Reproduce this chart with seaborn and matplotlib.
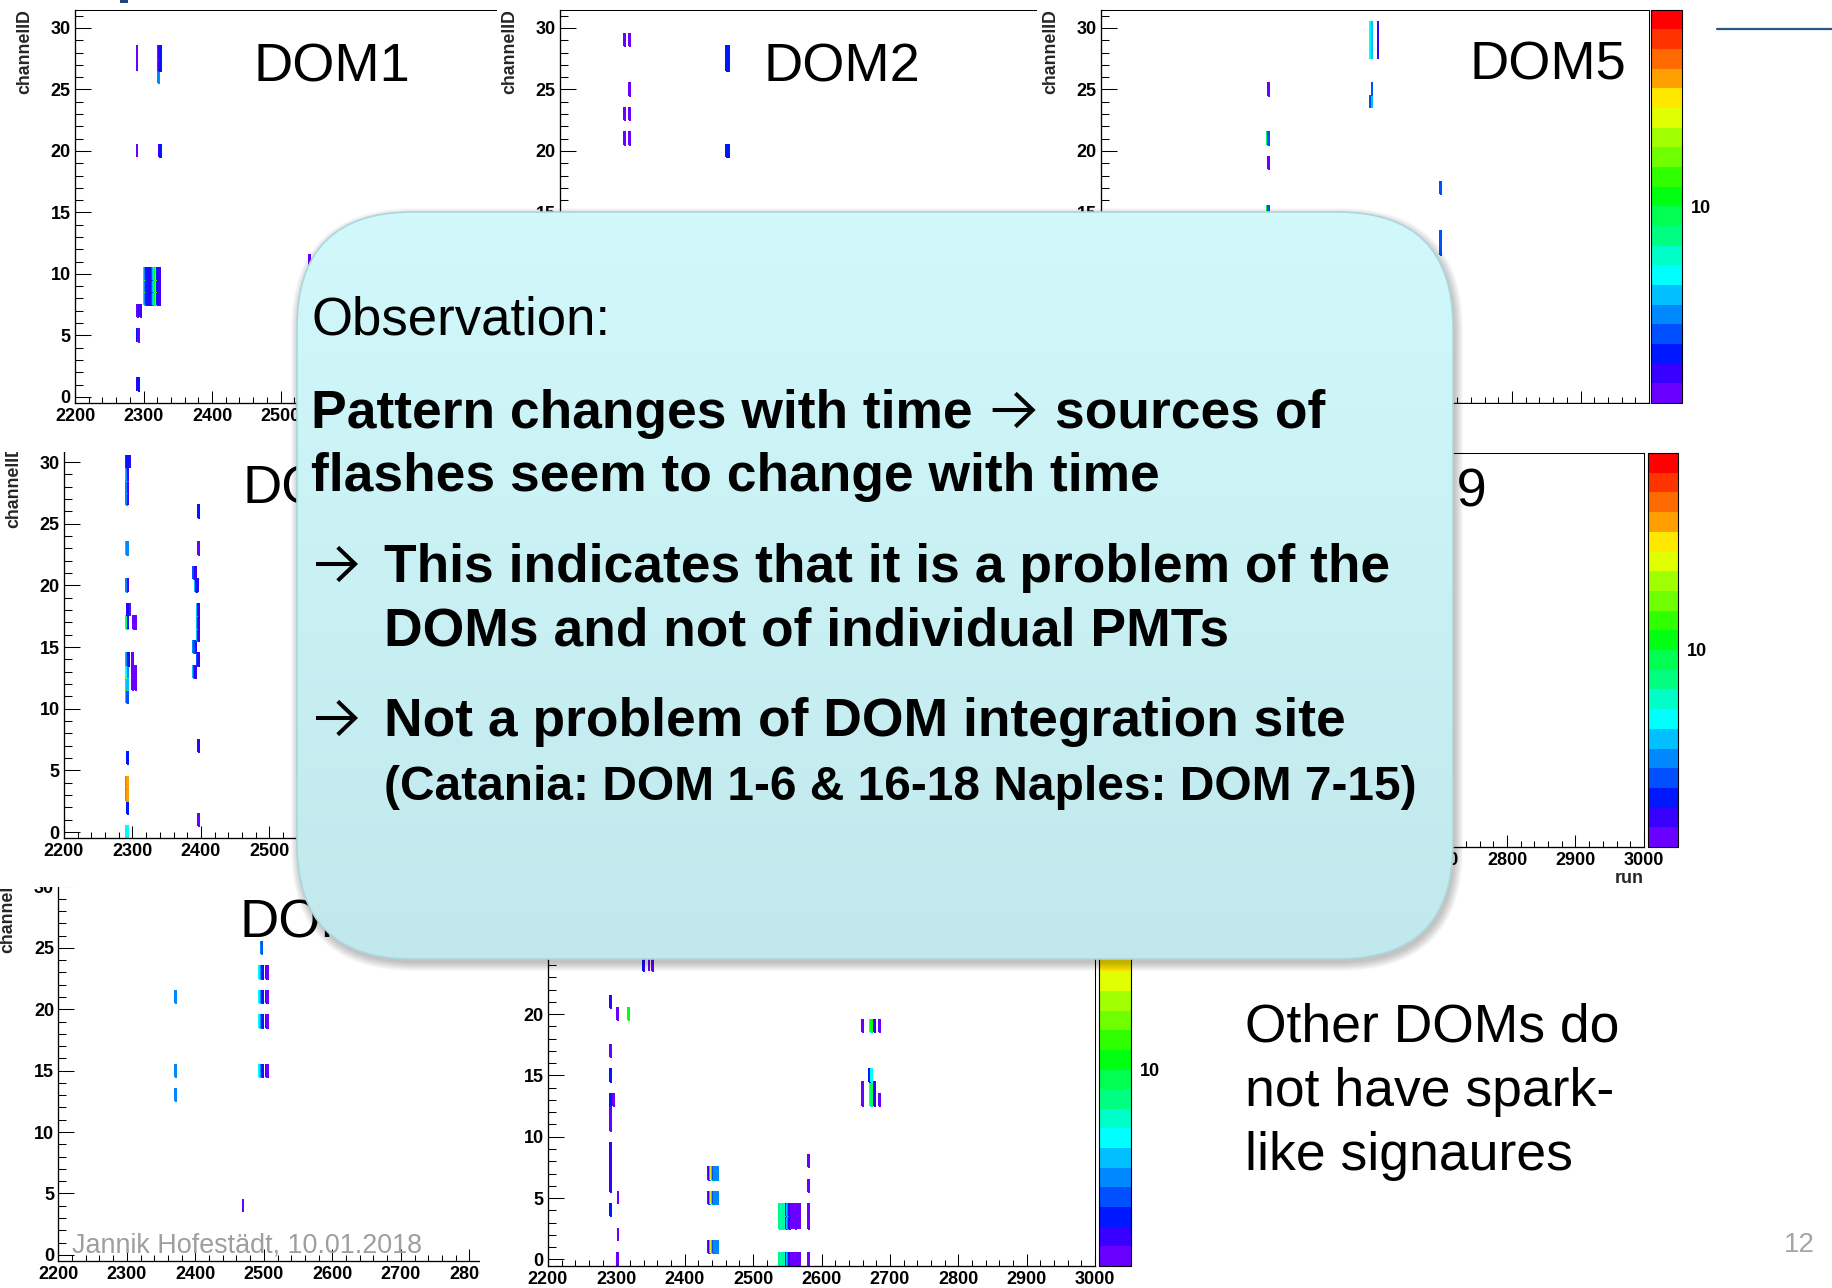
import numpy as np
import pandas as pd
import matplotlib
matplotlib.use("Agg")
import matplotlib.pyplot as plt
import seaborn as sns
from matplotlib.colors import ListedColormap, LogNorm
from matplotlib.patches import Rectangle, FancyBboxPatch, FancyArrowPatch
from matplotlib.lines import Line2D
from matplotlib.ticker import MultipleLocator, NullFormatter
from matplotlib.cm import ScalarMappable

# ------------------------------------------------------------------ data
run_range = (2200, 3000)
channel_range = (-0.5, 31.5)
run_ticks = [2200, 2300, 2400, 2500, 2600, 2700, 2800, 2900, 3000]
channel_ticks = [0, 5, 10, 15, 20, 25, 30]
count_range = (2, 50)
colorbar_ticks = [10]
colorbar_tick_labels = ["10"]
colorbar_minor_ticks = [2, 3, 4, 5, 6, 7, 8, 9, 20, 30, 40, 50]
rainbow_colors = ["#6a00ff", "#3800ff", "#0018ff", "#0050ff", "#0088ff",
                  "#00c0ff", "#00ffff", "#00ffc8", "#00ff80", "#00ff50",
                  "#00ff10", "#30ff00", "#70ff00", "#a0ff00", "#e0ff00",
                  "#ffe800", "#ffa000", "#ff6a00", "#ff3300", "#ff0000"]

# streaks: (run, first channel, last channel, entries)
dom1_streaks = [
    (2290, 27, 28, 2), (2321, 26, 26, 4), (2321, 27, 28, 3.5), (2322, 27, 28, 3),
    (2323, 27, 28, 2.5), (2324, 27, 28, 3),
    (2290, 20, 20, 2), (2322, 20, 20, 3), (2323, 20, 20, 2.5), (2324, 20, 20, 3),
    (2290, 7, 7, 3), (2291, 7, 7, 2), (2293, 7, 7, 2.5), (2295, 7, 7, 2), (2296, 7, 7, 2.5),
    (2290, 5, 5, 3), (2292, 5, 5, 2),
    (2290, 1, 1, 2.5), (2292, 1, 1, 3),
    (2542, 11, 11, 2),
]
dom1_burst_runs = [2300, 2301, 2302, 2303, 2304, 2305, 2306, 2307, 2308, 2309, 2310, 2311,
                   2312, 2313, 2314, 2315, 2316, 2317, 2318, 2319, 2320, 2321, 2322, 2323]
dom1_burst_counts = [3, 9, 4, 4, 3, 3, 3, 2.5, 2.5, 2, 2.5, 3,
                     3.5, 3.5, 5, 5, 9, 10, 14, 3, 3, 2.5, 2, 2.5]
dom1_burst_channels = [(8, 10)]

dom2_streaks = [
    (2294, 29, 29, 2), (2301, 29, 29, 2), (2301, 25, 25, 2),
    (2294, 23, 23, 2), (2301, 23, 23, 2), (2294, 21, 21, 2), (2301, 21, 21, 2),
    (2443, 27, 28, 3), (2444, 27, 28, 3), (2445, 27, 28, 3),
    (2443, 20, 20, 3), (2444, 20, 20, 3), (2445, 20, 20, 3),
]

dom5_streaks = [
    (2592, 28, 30, 6), (2595, 28, 30, 5), (2604, 28, 30, 2.5),
    (2444, 25, 25, 2), (2595, 25, 25, 3.5), (2592, 24, 24, 3.5), (2595, 24, 24, 5),
    (2444, 21, 21, 3.5), (2443, 21, 21, 8), (2444, 19, 19, 2),
    (2695, 17, 17, 3.8), (2444, 15, 15, 3.5), (2443, 15, 15, 9), (2695, 12, 13, 3.8),
]

dom8_streaks = [
    (2291, 30, 30, 2), (2292, 30, 30, 3), (2293, 30, 30, 3), (2296, 30, 30, 2.5),
    (2291, 29, 29, 5), (2292, 29, 29, 4), (2293, 29, 29, 2.5),
    (2291, 27, 28, 4), (2293, 27, 28, 2.5),
    (2395, 26, 26, 4), (2396, 26, 26, 3),
    (2291, 23, 23, 5), (2292, 23, 23, 4), (2396, 23, 23, 2),
    (2291, 20, 20, 4), (2293, 20, 20, 2.5),
    (2389, 21, 21, 3.5), (2390, 21, 21, 3.5), (2391, 21, 21, 2.5),
    (2391, 20, 20, 5), (2393, 20, 20, 3), (2395, 20, 20, 2.5),
    (2292, 18, 18, 2.5), (2293, 18, 18, 3), (2296, 18, 18, 2),
    (2394, 16, 18, 5), (2395, 16, 18, 3), (2396, 16, 18, 2.5),
    (2291, 17, 17, 12), (2292, 17, 17, 8), (2293, 17, 17, 3), (2301, 17, 17, 2), (2304, 17, 17, 2),
    (2389, 15, 15, 4), (2390, 15, 15, 3.5), (2392, 15, 15, 2.5),
    (2291, 14, 14, 5), (2292, 14, 14, 4), (2294, 14, 14, 3), (2300, 14, 14, 2),
    (2394, 14, 14, 3.5), (2396, 14, 14, 2.5),
    (2291, 13, 13, 14), (2292, 13, 13, 6), (2293, 13, 13, 4), (2300, 13, 13, 2), (2304, 13, 13, 2),
    (2389, 13, 13, 5), (2390, 13, 13, 3.5), (2391, 13, 13, 2.5),
    (2291, 12, 12, 12), (2292, 12, 12, 5), (2300, 12, 12, 2), (2304, 12, 12, 2),
    (2291, 11, 11, 10), (2292, 11, 11, 3.5),
    (2395, 7, 7, 3), (2396, 7, 7, 2.5),
    (2292, 6, 6, 3),
    (2290, 3, 4, 40), (2291, 3, 4, 33), (2292, 3, 4, 28),
    (2292, 2, 2, 3),
    (2396, 1, 1, 2),
    (2290, 0, 0, 33), (2291, 0, 0, 28), (2292, 0, 0, 6),
]

dom9_streaks = []

dom13_streaks = [
    (2371, 21, 21, 4), (2371, 15, 15, 4), (2371, 13, 13, 4), (2469, 4, 4, 2),
    (2496, 25, 25, 4), (2497, 25, 25, 3.5),
]
dom13_burst_runs = [2493, 2494, 2495, 2496, 2497, 2498, 2503, 2505]
dom13_burst_counts = [6, 7, 8, 4, 3.5, 3, 2.5, 2]
dom13_burst_channels = [(23, 23), (21, 21), (19, 19), (15, 15)]

dom16_streaks = [
    (2290, 21, 21, 2.5), (2291, 21, 21, 2.5), (2301, 20, 20, 2), (2317, 20, 20, 10),
    (2339, 24, 25, 3), (2340, 24, 25, 2.5), (2347, 24, 25, 2), (2352, 24, 25, 2),
    (2291, 17, 17, 2), (2291, 15, 15, 3), (2291, 13, 13, 3), (2295, 13, 13, 2),
    (2291, 11, 12, 2), (2291, 6, 9, 2.5), (2302, 5, 5, 2), (2291, 4, 4, 3),
    (2302, 2, 2, 2), (2301, 0, 0, 2),
    (2580, 8, 8, 2), (2580, 6, 6, 2), (2580, 3, 4, 2), (2580, 0, 0, 2),
    (2659, 19, 19, 2), (2671, 19, 19, 6), (2672, 19, 19, 8), (2673, 19, 19, 10),
    (2677, 19, 19, 2.5), (2684, 19, 19, 2),
    (2670, 15, 15, 3), (2671, 15, 15, 3), (2673, 15, 15, 6),
    (2659, 13, 14, 2), (2671, 13, 14, 6), (2673, 13, 14, 9), (2677, 13, 14, 2.5), (2684, 13, 13, 2),
]
dom16_burst_a_runs = [2434, 2436, 2437, 2438, 2439, 2440, 2441, 2442, 2443, 2444, 2445, 2446, 2447, 2448]
dom16_burst_a_counts = [2, 2.5, 5, 12, 24, 9, 3, 3.5, 4, 4, 4, 4, 4, 4]
dom16_burst_a_channels = [(7, 7), (5, 5), (1, 1)]
dom16_burst_b_runs = [2538, 2539, 2540, 2541, 2542, 2543, 2544, 2545, 2546, 2547, 2548,
                      2549, 2550, 2551, 2552, 2553, 2555, 2558, 2561, 2565, 2568]
dom16_burst_b_counts = [8, 8, 9, 7, 7, 8, 8, 8, 7, 7, 3, 3.5, 5, 4, 2.5, 2.5, 2, 2, 2, 2, 2]
dom16_burst_b_channels = [(3, 4), (0, 0)]

panel_names = ["DOM1", "DOM2", "DOM5", "DOM8", "DOM9", "DOM13", "DOM16"]

box_title = "Observation:"
box_line1 = ["Pattern changes with time", "sources of"]
box_line2 = "flashes seem to change with time"
box_bullets = [["This indicates that it is a problem of the",
                "DOMs and not of individual PMTs"],
               ["Not a problem of DOM integration site"]]
box_note = "(Catania: DOM 1-6 & 16-18 Naples: DOM 7-15)"
side_lines = ["Other DOMs do", "not have spark-", "like signaures"]
footer_text = "Jannik Hofest\u00e4dt, 10.01.2018"
page_number = "12"

# ------------------------------------------------------------------ setup
sns.set_theme(style="white")
plt.rcParams["font.family"] = ["Liberation Sans", "DejaVu Sans"]
plt.rcParams["font.weight"] = "bold"
plt.rcParams["axes.labelweight"] = "bold"

W, H = 1832, 1288
fig = plt.figure(figsize=(W / 100, H / 100), dpi=100)
fig.patch.set_facecolor("white")
rainbow = ListedColormap(rainbow_colors)


def px_rect(l, t, r, b):
    return [l / W, 1 - b / H, (r - l) / W, (b - t) / H]


def fx(x):
    return x / W


def fy(y):
    return 1 - y / H


def add_cover(l, t, r, b, z):
    fig.add_artist(Rectangle((l / W, 1 - b / H), (r - l) / W, (b - t) / H,
                             transform=fig.transFigure, facecolor="white",
                             edgecolor="none", zorder=z))


def with_bursts(streaks, runs, counts, channels):
    out = list(streaks)
    for run, n in zip(runs, counts):
        for lo, hi in channels:
            out.append((run, lo, hi, n))
    return out


def to_frame(streaks):
    rows = []
    for run, lo, hi, n in streaks:
        for ch in range(lo, hi + 1):
            rows.append((run, ch, n))
    return pd.DataFrame(rows, columns=["run", "channel", "entries"])


def style_axes(ax):
    ax.set_xlim(run_range)
    ax.set_ylim(channel_range)
    ax.set_xticks(run_ticks)
    ax.set_yticks(channel_ticks)
    ax.xaxis.set_minor_locator(MultipleLocator(20))
    ax.yaxis.set_minor_locator(MultipleLocator(1))
    ax.tick_params(which="both", direction="in", top=False, right=False,
                   bottom=True, left=True, width=0.75, color="black",
                   labelsize=13, labelcolor="black")
    ax.tick_params(axis="y", which="major", length=11.5, pad=3)
    ax.tick_params(axis="y", which="minor", length=5.8)
    ax.tick_params(axis="x", which="major", length=8.6, pad=3.6)
    ax.tick_params(axis="x", which="minor", length=4.3)
    for s in ["left", "bottom"]:
        ax.spines[s].set_linewidth(0.95)
    for s in ["top", "right"]:
        ax.spines[s].set_linewidth(0.75)
    for s in ax.spines.values():
        s.set_visible(True)
        s.set_color("black")
    ax.grid(False)
    ax.set_xlabel("run", loc="right", labelpad=1, fontsize=13)
    ax.set_ylabel("channelID", loc="top", fontsize=12.8)
    ax.yaxis.set_label_coords(-0.076, 1.0)


def draw_panel(rect, z, streaks, name, name_xy, name_ha="left"):
    ax = fig.add_axes(px_rect(*rect), zorder=z)
    ax.set_facecolor("white")
    if streaks:
        df = to_frame(streaks)
        sns.histplot(data=df, x="run", y="channel", weights="entries",
                     binwidth=(1, 1), binrange=(run_range, channel_range),
                     cmap=rainbow, vmin=count_range[0], vmax=count_range[1],
                     thresh=0, edgecolor="face", linewidth=0.22, cbar=False, ax=ax)
        ax.collections[-1].set_norm(LogNorm(*count_range))
    style_axes(ax)
    ax.text(fx(name_xy[0]), fy(name_xy[1]), name, transform=fig.transFigure,
            fontsize=39, fontweight="normal", ha=name_ha, va="baseline", color="black")
    return ax


def add_colorbar(rect, z):
    cax = fig.add_axes(px_rect(*rect), zorder=z)
    sm = ScalarMappable(norm=LogNorm(*count_range), cmap=rainbow)
    cb = fig.colorbar(sm, cax=cax)
    cb.set_ticks(colorbar_ticks, labels=colorbar_tick_labels)
    cb.set_ticks(colorbar_minor_ticks, minor=True)
    cax.yaxis.set_minor_formatter(NullFormatter())
    cax.tick_params(which="both", direction="in", right=True, left=False,
                    color="black", width=0.75, labelsize=13, labelcolor="black")
    cax.tick_params(which="major", length=11.5, pad=6.5)
    cax.tick_params(which="minor", length=5.8)
    cb.outline.set_linewidth(0.8)
    cb.outline.set_edgecolor("black")
    return cb


def add_arrow(x0, x1, y, z=101):
    arr = FancyArrowPatch((fx(x0), fy(y)), (fx(x1), fy(y)), transform=fig.transFigure,
                          arrowstyle="->,head_length=12.5,head_width=12",
                          mutation_scale=1, lw=2.9, color="black",
                          shrinkA=0, shrinkB=0, zorder=z, joinstyle="miter",
                          capstyle="butt")
    fig.add_artist(arr)


# slide background decorations
fig.add_artist(Rectangle((120 / W, 1 - 3 / H), 8 / W, 3 / H, transform=fig.transFigure,
                         facecolor="#23457d", edgecolor="none", zorder=0.5))
fig.add_artist(Line2D([1717 / W, 1.0], [1 - 29 / H, 1 - 29 / H], transform=fig.transFigure,
                      color="#2a5a8c", lw=1.6, zorder=0.5))

# panels (stacked like pasted screenshots)
add_cover(0, 860, 480, 1288, 1)
draw_panel((58.3, 868, 606.3, 1261), 1.5,
           with_bursts(dom13_streaks, dom13_burst_runs, dom13_burst_counts, dom13_burst_channels),
           panel_names[5], (239, 938))

add_cover(0, 420, 1037, 887, 2)
draw_panel((64, 443.6, 612, 838.2), 2.5, dom8_streaks, panel_names[3], (243, 504))

add_cover(480, 862, 1165, 1288, 3)
p7 = with_bursts(dom16_streaks, dom16_burst_a_runs, dom16_burst_a_counts, dom16_burst_a_channels)
p7 = with_bursts(p7, dom16_burst_b_runs, dom16_burst_b_counts, dom16_burst_b_channels)
draw_panel((548, 873, 1095, 1265.5), 3.5, p7, panel_names[6], (700, 944))
add_colorbar((1099, 873, 1131, 1266), 3.5)

add_cover(0, 3, 497, 452, 4)
draw_panel((75, 9.5, 623, 403), 4.5,
           with_bursts(dom1_streaks, dom1_burst_runs, dom1_burst_counts, dom1_burst_channels),
           panel_names[0], (253, 81))

add_cover(497, 0, 1037, 452, 5)
draw_panel((560, 9.5, 1108, 403), 5.5, dom2_streaks, panel_names[1], (763, 81))

add_cover(1037, 0, 1716, 404, 6)
draw_panel((1101, 9.5, 1649, 403), 6.5, dom5_streaks, panel_names[2], (1470, 80))
add_colorbar((1651, 9.5, 1682, 403), 6.5)

add_cover(1037, 404, 1832, 890, 7)
draw_panel((1096, 453, 1644, 847), 7.5, dom9_streaks, panel_names[4], (1487, 507), "right")
add_colorbar((1648, 453, 1678, 847), 7.5)

# slide texts
for i, line in enumerate(side_lines):
    fig.text(fx(1245), fy(1042 + 64 * i), line, fontsize=38.5, fontweight="normal",
             ha="left", va="baseline", color="black", zorder=8)
fig.text(fx(1815), fy(1252), page_number, fontsize=20, fontweight="normal",
         ha="right", va="baseline", color="#a6a6a6", zorder=8)
fig.text(fx(72), fy(1252), footer_text, fontsize=19.4, fontweight="normal",
         ha="left", va="baseline", color="#9e9e9e", zorder=9)

# overlay box
bl, bt, br, bb = 270, 190, 1480, 990
box_ax = fig.add_axes(px_rect(bl, bt, br, bb), zorder=100)
box_ax.set_axis_off()
bw, bh = br - bl, bb - bt
x0, y0 = 297 - bl, bb - 959
w, h = 1453 - 297, 959 - 212
rad = 115
for e in range(0, 9):
    box_ax.add_patch(FancyBboxPatch((x0 + 2 - e, y0 - 4 - e), w + 2 * e, h + 2 * e,
                                    boxstyle=f"round,pad=0,rounding_size={rad + e}",
                                    facecolor="black", edgecolor="none", alpha=0.028, zorder=1))
top_c = np.array([0.820, 0.976, 0.984])
bot_c = np.array([0.757, 0.914, 0.929])
t = np.linspace(0, 1, 256)[:, None, None]
grad = top_c[None, None, :] * (1 - t) + bot_c[None, None, :] * t
img = box_ax.imshow(grad, extent=(x0, x0 + w, y0, y0 + h), aspect="auto", origin="upper",
                    interpolation="bilinear", zorder=2)
outline = FancyBboxPatch((x0, y0), w, h, boxstyle=f"round,pad=0,rounding_size={rad}",
                         facecolor="none", edgecolor="#acd6dc", lw=1.2, zorder=3)
box_ax.add_patch(outline)
img.set_clip_path(outline)
box_ax.set_xlim(0, bw)
box_ax.set_ylim(0, bh)

BOLD = 38.4
fig.text(fx(311), fy(334), box_title, fontsize=38, fontweight="normal",
         ha="left", va="baseline", color="black", zorder=101)
t1 = fig.text(fx(311), fy(428), box_line1[0], fontsize=BOLD, fontweight="bold",
              ha="left", va="baseline", color="black", zorder=101)
renderer = fig.canvas.get_renderer()
x_end = t1.get_window_extent(renderer).x1
add_arrow(x_end + 20, x_end + 63, 428 - 18)
fig.text(fx(x_end + 82), fy(428), box_line1[1], fontsize=BOLD, fontweight="bold",
         ha="left", va="baseline", color="black", zorder=101)
fig.text(fx(311), fy(491), box_line2, fontsize=BOLD, fontweight="bold",
         ha="left", va="baseline", color="black", zorder=101)
bullet_base = [582, 736]
for b, lines in enumerate(box_bullets):
    add_arrow(316, 358, bullet_base[b] - 18)
    for i, line in enumerate(lines):
        fig.text(fx(384), fy(bullet_base[b] + 64 * i), line, fontsize=BOLD,
                 fontweight="bold", ha="left", va="baseline", color="black", zorder=101)
fig.text(fx(384), fy(800), box_note, fontsize=34.5, fontweight="bold",
         ha="left", va="baseline", color="black", zorder=101)

fig.savefig("out.png", dpi=100)
